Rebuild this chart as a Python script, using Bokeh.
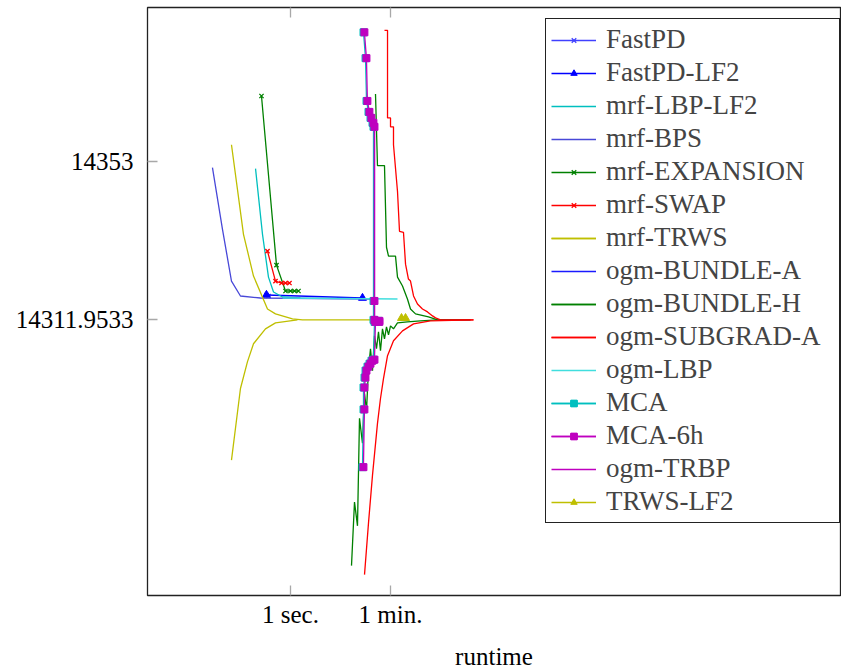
from bokeh.plotting import figure
from bokeh.models import Range1d, FixedTicker, LogAxis, Legend, LegendItem, CustomJSTickFormatter
from bokeh.embed import file_html
from bokeh.resources import INLINE

# ---------------- data: runtime [s] vs. energy ----------------
x_ticks = [1, 60]
x_tick_labels = ["1 sec.", "1 min."]
y_ticks = [14311.9533, 14353]
y_tick_labels = ["14311.9533", "14353"]

fastpd_t = [0.374, 0.406]
fastpd_e = [14318.41, 14318.15]

fastpd_lf2_t = [0.374, 19.06]
fastpd_lf2_e = [14318.41, 14317.63]

mrf_lbp_lf2_t = [0.239, 0.318, 0.406, 0.499, 0.721, 1.506]
mrf_lbp_lf2_e = [14351.19, 14334.15, 14323.05, 14319.18, 14317.89, 14317.63]

mrf_bps_t = [0.041, 0.0618, 0.0893, 0.129, 0.293, 26.45]
mrf_bps_e = [14351.45, 14335.45, 14322.02, 14318.15, 14317.63, 14317.37]

mrf_expansion_t = [0.305, 0.564, 0.815, 1.0, 1.178, 1.388]
mrf_expansion_e = [14370.04, 14326.15, 14319.44, 14319.44, 14319.44, 14319.44]

mrf_swap_t = [0.390, 0.541, 0.692, 0.815, 0.960]
mrf_swap_e = [14329.77, 14322.02, 14321.51, 14321.51, 14321.51]

mrf_trws_t = [0.0893, 0.146, 0.220, 0.390, 0.541, 1.085, 1.634, 29.91]
mrf_trws_e = [14357.39, 14334.15, 14323.31, 14314.79, 14313.50, 14312.21, 14311.95, 14311.95]
mrf_trws_lb_t = [0.0893, 0.129, 0.172, 0.220, 0.359, 0.541, 1.331]
mrf_trws_lb_e = [14275.55, 14294.14, 14301.11, 14305.76, 14309.63, 14311.18, 14311.95]

ogm_bundle_a_t = [411, 1585]
ogm_bundle_a_e = [14311.95, 14311.95]

ogm_bundle_h_t = [32.46, 35.2, 46.9, 50.9, 55.3, 73.6, 79.9, 98.0, 111, 120, 136, 167, 284, 411, 1585]
ogm_bundle_h_e = [14370.55, 14351.97, 14351.97, 14330.80, 14328.48, 14328.48, 14323.05, 14320.73,
                  14318.67, 14317.37, 14314.79, 14313.50, 14312.73, 14311.95, 14311.95]
ogm_bundle_h_lb_t = [12.15, 13.74, 15.53, 16.86, 19.06, 20.70, 22.47, 24.38, 26.45, 28.71, 31.16, 33.82,
                     36.7, 39.8, 43.2, 46.9, 50.9, 55.3, 60.0, 67.8, 79.9, 120, 205, 411]
ogm_bundle_h_lb_e = [14248.19, 14264.71, 14258.51, 14286.40, 14279.94, 14292.85, 14288.46, 14299.30,
                     14304.47, 14298.79, 14307.82, 14304.47, 14308.86, 14303.95, 14309.63, 14307.05,
                     14310.15, 14308.08, 14310.40, 14309.63, 14311.18, 14311.44, 14311.70, 14311.95]

ogm_subgrad_a_t = [46.9, 53.1, 53.1, 60.0, 60.0, 67.8, 67.8, 79.9, 86.7, 102, 111, 125, 136, 154, 181,
                   222, 273, 335, 379, 465, 1794]
ogm_subgrad_a_e = [14387.08, 14387.08, 14364.36, 14364.36, 14362.04, 14362.04, 14357.39, 14345.26,
                   14334.93, 14334.67, 14326.41, 14322.54, 14322.02, 14318.15, 14316.08, 14314.79,
                   14314.02, 14312.98, 14312.47, 14311.95, 14311.95]
ogm_subgrad_a_lb_t = [20.70, 24.38, 28.71, 35.2, 39.8, 45.0, 53.1, 67.8, 98.0, 154, 308, 1794]
ogm_subgrad_a_lb_e = [14245.86, 14259.29, 14271.68, 14285.10, 14291.56, 14296.72, 14302.66, 14306.53,
                      14309.11, 14310.92, 14311.70, 14311.95]

ogm_lbp_t = [0.721, 79.9]
ogm_lbp_e = [14317.63, 14317.37]

mca_t = [19.86, 21.57, 22.47, 24.38, 26.45, 28.71, 29.91, 29.91, 29.91, 36.7]
mca_e = [14386.56, 14379.85, 14368.75, 14365.91, 14364.36, 14363.07, 14362.04, 14316.86, 14311.95, 14311.70]
mca_lb_t = [19.06, 19.86, 19.86, 20.70, 21.57, 23.4, 25.4, 27.56, 29.91, 31.16, 36.7]
mca_lb_e = [14273.74, 14288.72, 14294.40, 14296.98, 14298.79, 14299.82, 14300.59, 14301.37, 14301.63,
            14311.44, 14311.44]

mca_6h_t = [20.6, 22.4, 23.3, 25.3, 27.4, 29.8, 31.1, 31.1, 31.1, 38.0]
mca_6h_e = [14386.56, 14379.85, 14368.75, 14365.91, 14364.36, 14363.07, 14362.04, 14316.86, 14311.95, 14311.70]
mca_6h_lb_t = [19.8, 20.6, 20.6, 21.5, 22.4, 24.3, 26.4, 28.7, 31.1, 32.4, 38.0]
mca_6h_lb_e = [14273.74, 14288.72, 14294.40, 14296.98, 14298.79, 14299.82, 14300.59, 14301.37, 14301.63,
               14311.44, 14311.44]

ogm_trbp_t = [31.2, 31.2, 33.8]
ogm_trbp_e = [14361.26, 14311.95, 14311.95]

trws_lf2_t = [94.1, 111]
trws_lf2_e = [14312.4, 14312.4]

# ---------------- figure ----------------
FONT = "Liberation Serif"

p = figure(width=841, height=672, x_axis_type="log",
           x_range=Range1d(0.00287, 6.0e9), y_range=Range1d(14240.44, 14393.0),
           output_backend="svg", toolbar_location=None,
           min_border_left=147, min_border_right=1, min_border_top=7, min_border_bottom=74)
p.background_fill_color = "white"
p.border_fill_color = "white"
p.xgrid.visible = False
p.ygrid.visible = False
p.outline_line_color = "#222222"
p.outline_line_width = 1.3

NEAREST = """
let best = 0; let bd = Infinity;
for (let i = 0; i < tvals.length; i++) {
  const d = Math.abs(tvals[i] - tick);
  if (d < bd) { bd = d; best = i; }
}
return tlabels[best];
"""

xa = p.xaxis[0]
xa.ticker = FixedTicker(ticks=x_ticks, minor_ticks=[])
xa.formatter = CustomJSTickFormatter(args=dict(tvals=x_ticks, tlabels=x_tick_labels), code=NEAREST)
xa.axis_label = "runtime"
ya = p.yaxis[0]
ya.ticker = FixedTicker(ticks=y_ticks, minor_ticks=[])
ya.formatter = CustomJSTickFormatter(args=dict(tvals=y_ticks, tlabels=y_tick_labels), code=NEAREST)

for ax in (xa, ya):
    ax.major_tick_in = 10
    ax.major_tick_out = 0
    ax.minor_tick_in = 0
    ax.minor_tick_out = 0
    ax.major_tick_line_color = "#a8a8a8"
    ax.major_tick_line_width = 1.3
    ax.axis_line_color = None
    ax.major_label_text_font = FONT
    ax.major_label_text_font_size = "25px"
    ax.major_label_text_color = "black"
    ax.axis_label_text_font = FONT
    ax.axis_label_text_font_size = "25px"
    ax.axis_label_text_font_style = "normal"
    ax.axis_label_text_color = "black"
xa.major_label_standoff = 5
xa.axis_label_standoff = 12
ya.major_label_standoff = 14

top_ax = LogAxis(ticker=FixedTicker(ticks=x_ticks, minor_ticks=[]), major_tick_in=10, major_tick_out=0,
                 major_tick_line_color="#a8a8a8", major_tick_line_width=1.3, axis_line_color=None,
                 major_label_text_color=None, major_label_standoff=0)
p.add_layout(top_ax, "above")

LW = 1.3
items = []

def add(label, series, color, marker=None, msize=7):
    rs = []
    for t, e in series:
        rs.append(p.line(t, e, line_color=color, line_width=LW))
        if marker is not None:
            if marker == "x":
                rs.append(p.scatter(t, e, marker="x", size=msize, line_color=color, line_width=1.3))
            else:
                rs.append(p.scatter(t, e, marker=marker, size=msize, line_color=color,
                                    fill_color=color, line_width=1))
    items.append(LegendItem(label=label, renderers=rs))

add("FastPD", [(fastpd_t, fastpd_e)], "#4040ff", marker="x", msize=6)
add("FastPD-LF2", [(fastpd_lf2_t, fastpd_lf2_e)], "#0000ff", marker="triangle", msize=8)
add("mrf-LBP-LF2", [(mrf_lbp_lf2_t, mrf_lbp_lf2_e)], "#00bfbf")
add("mrf-BPS", [(mrf_bps_t, mrf_bps_e)], "#4848d8")
add("mrf-EXPANSION", [(mrf_expansion_t, mrf_expansion_e)], "#008000", marker="x", msize=6)
add("mrf-SWAP", [(mrf_swap_t, mrf_swap_e)], "#ff0000", marker="x", msize=6)
add("mrf-TRWS", [(mrf_trws_t, mrf_trws_e), (mrf_trws_lb_t, mrf_trws_lb_e)], "#bfbf00")
add("ogm-BUNDLE-A", [(ogm_bundle_a_t, ogm_bundle_a_e)], "#1a1aff")
add("ogm-BUNDLE-H", [(ogm_bundle_h_t, ogm_bundle_h_e), (ogm_bundle_h_lb_t, ogm_bundle_h_lb_e)], "#008000")
add("ogm-SUBGRAD-A", [(ogm_subgrad_a_t, ogm_subgrad_a_e), (ogm_subgrad_a_lb_t, ogm_subgrad_a_lb_e)], "#ff0000")
add("ogm-LBP", [(ogm_lbp_t, ogm_lbp_e)], "#40dede")
add("MCA", [(mca_t, mca_e), (mca_lb_t, mca_lb_e)], "#00bfbf", marker="square", msize=7)
add("MCA-6h", [(mca_6h_t, mca_6h_e), (mca_6h_lb_t, mca_6h_lb_e)], "#bf00bf", marker="square", msize=7)
add("ogm-TRBP", [(ogm_trbp_t, ogm_trbp_e)], "#bf00bf")
add("TRWS-LF2", [(trws_lf2_t, trws_lf2_e)], "#bfbf00", marker="triangle", msize=8)

legend = Legend(items=items, location=(398, 72), padding=5, spacing=2, margin=0,
                glyph_width=45, glyph_height=16, label_height=30, label_width=228, label_standoff=10,
                label_text_font=FONT, label_text_font_size="27px",
                border_line_color="#222222", border_line_width=1.3, border_line_alpha=1.0,
                background_fill_color="white", background_fill_alpha=1.0)
p.add_layout(legend, "center")

open("out.html", "w").write(file_html(p, INLINE))
